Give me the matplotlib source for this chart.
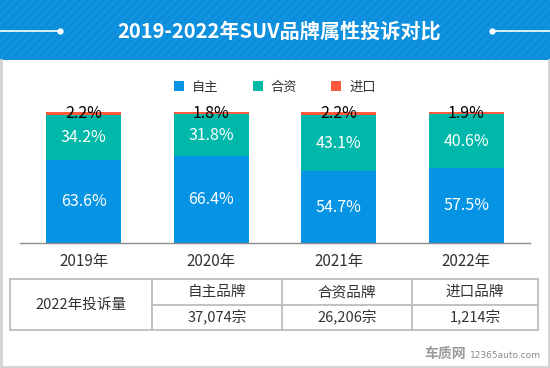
import matplotlib
matplotlib.use('Agg')
import matplotlib.pyplot as plt
from matplotlib.patches import Rectangle

plt.rcParams['font.family'] = ['Noto Sans CJK SC', 'DejaVu Sans']
plt.rcParams['hatch.linewidth'] = 1.5

# 차트 데이터
title = '2019-2022年SUV品牌属性投诉对比'
years = ['2019年', '2020年', '2021年', '2022年']
series_names = ['自主', '合资', '进口']
own = [63.6, 66.4, 54.7, 57.5]
joint = [34.2, 31.8, 43.1, 40.6]
imported = [2.2, 1.8, 2.2, 1.9]

table_title = '2022年投诉量'
table_header = ['自主品牌', '合资品牌', '进口品牌']
table_counts = ['37,074宗', '26,206宗', '1,214宗']

c_own, c_joint, c_imp = '#0593E4', '#00B8A9', '#FF5A3C'
W, H = 550, 368

fig = plt.figure(figsize=(5.5, 3.68), dpi=100)

# 배경/헤더/표를 그리는 픽셀 좌표용 axes
bg = fig.add_axes([0, 0, 1, 1])
bg.set_xlim(0, W)
bg.set_ylim(H, 0)
bg.axis('off')

bg.add_patch(Rectangle((0, 0), W, 60, facecolor='#0A8EDD', edgecolor='#1594E0',
                       hatch='////', linewidth=0))
bg.text(279, 31, title, color='white', fontsize=14.5, fontweight='bold',
        ha='center', va='center')
bg.plot([0, 60], [30.5, 30.5], color='white', lw=1.2)
bg.plot([492, W], [30.5, 30.5], color='white', lw=1.2)
bg.plot([60, 492], [30.5, 30.5], 'o', color='white', ms=3.5, lw=0)

# 바깥 테두리
border = '#D3D3D3'
bg.plot([1, 1], [60, 366.5], color=border, lw=2)
bg.plot([549, 549], [60, 366.5], color=border, lw=2)
bg.plot([0, W], [366.5, 366.5], color=border, lw=2)

# 하단 표
tc = '#BDBDBD'
tx = [10, 152, 282, 412, 538]
ty = [279, 305, 330]
for y in (ty[0], ty[2]):
    bg.plot([tx[0], tx[-1]], [y, y], color=tc, lw=1.3)
bg.plot([tx[1], tx[-1]], [ty[1], ty[1]], color=tc, lw=1.3)
for x in tx:
    bg.plot([x, x], [ty[0], ty[2]], color=tc, lw=1.3)
bg.text((tx[0] + tx[1]) / 2, (ty[0] + ty[2]) / 2, table_title, fontsize=10.5,
        color='#333333', ha='center', va='center')
for i in range(3):
    cx = (tx[i + 1] + tx[i + 2]) / 2
    bg.text(cx, (ty[0] + ty[1]) / 2, table_header[i], fontsize=10.5,
            color='#333333', ha='center', va='center')
    bg.text(cx, (ty[1] + ty[2]) / 2, table_counts[i], fontsize=10.5,
            color='#333333', ha='center', va='center')

# 워터마크
bg.text(466, 354, '车质网', fontsize=10, fontweight='bold', color='#9A9A9A',
        ha='right', va='center')
bg.text(470, 355, '12365auto.com', fontsize=6.5, color='#8A8A8A',
        ha='left', va='center', family='DejaVu Sans')

# 누적 막대 차트
ax = fig.add_axes([20 / W, 125 / H, 510 / W, 131 / H])
x = range(len(years))
bw = 0.59
b1 = ax.bar(x, own, bw, color=c_own, label=series_names[0])
b2 = ax.bar(x, joint, bw, bottom=own, color=c_joint, label=series_names[1])
bottom3 = [a + b for a, b in zip(own, joint)]
b3 = ax.bar(x, imported, bw, bottom=bottom3, color=c_imp, label=series_names[2])

for i in x:
    ax.text(i, own[i] / 2, f'{own[i]}%', color='white', fontsize=11.5,
            ha='center', va='center')
    ax.text(i, own[i] + joint[i] / 2, f'{joint[i]}%', color='white', fontsize=11.5,
            ha='center', va='center')
    ax.text(i, 99, f'{imported[i]}%', color='black', fontsize=11.5,
            ha='center', va='center')

ax.set_xlim(-0.5, 3.5)
ax.set_ylim(0, 100)
ax.set_xticks(list(x))
ax.set_xticklabels(years, fontsize=11, color='#333333')
ax.tick_params(axis='x', length=0, pad=7)
ax.set_yticks([])
for s in ['top', 'left', 'right']:
    ax.spines[s].set_visible(False)
ax.spines['bottom'].set_color('#8C8C8C')
ax.spines['bottom'].set_linewidth(1.0)
ax.patch.set_alpha(0)

fig.legend(handles=[b1, b2, b3], loc='center', bbox_to_anchor=(0.5, 1 - 87 / H),
           ncol=3, frameon=False, fontsize=9.5, handlelength=0.75, handleheight=0.75,
           handletextpad=0.6, columnspacing=2.6, labelcolor='#333333')

fig.savefig('out.png', dpi=100)
